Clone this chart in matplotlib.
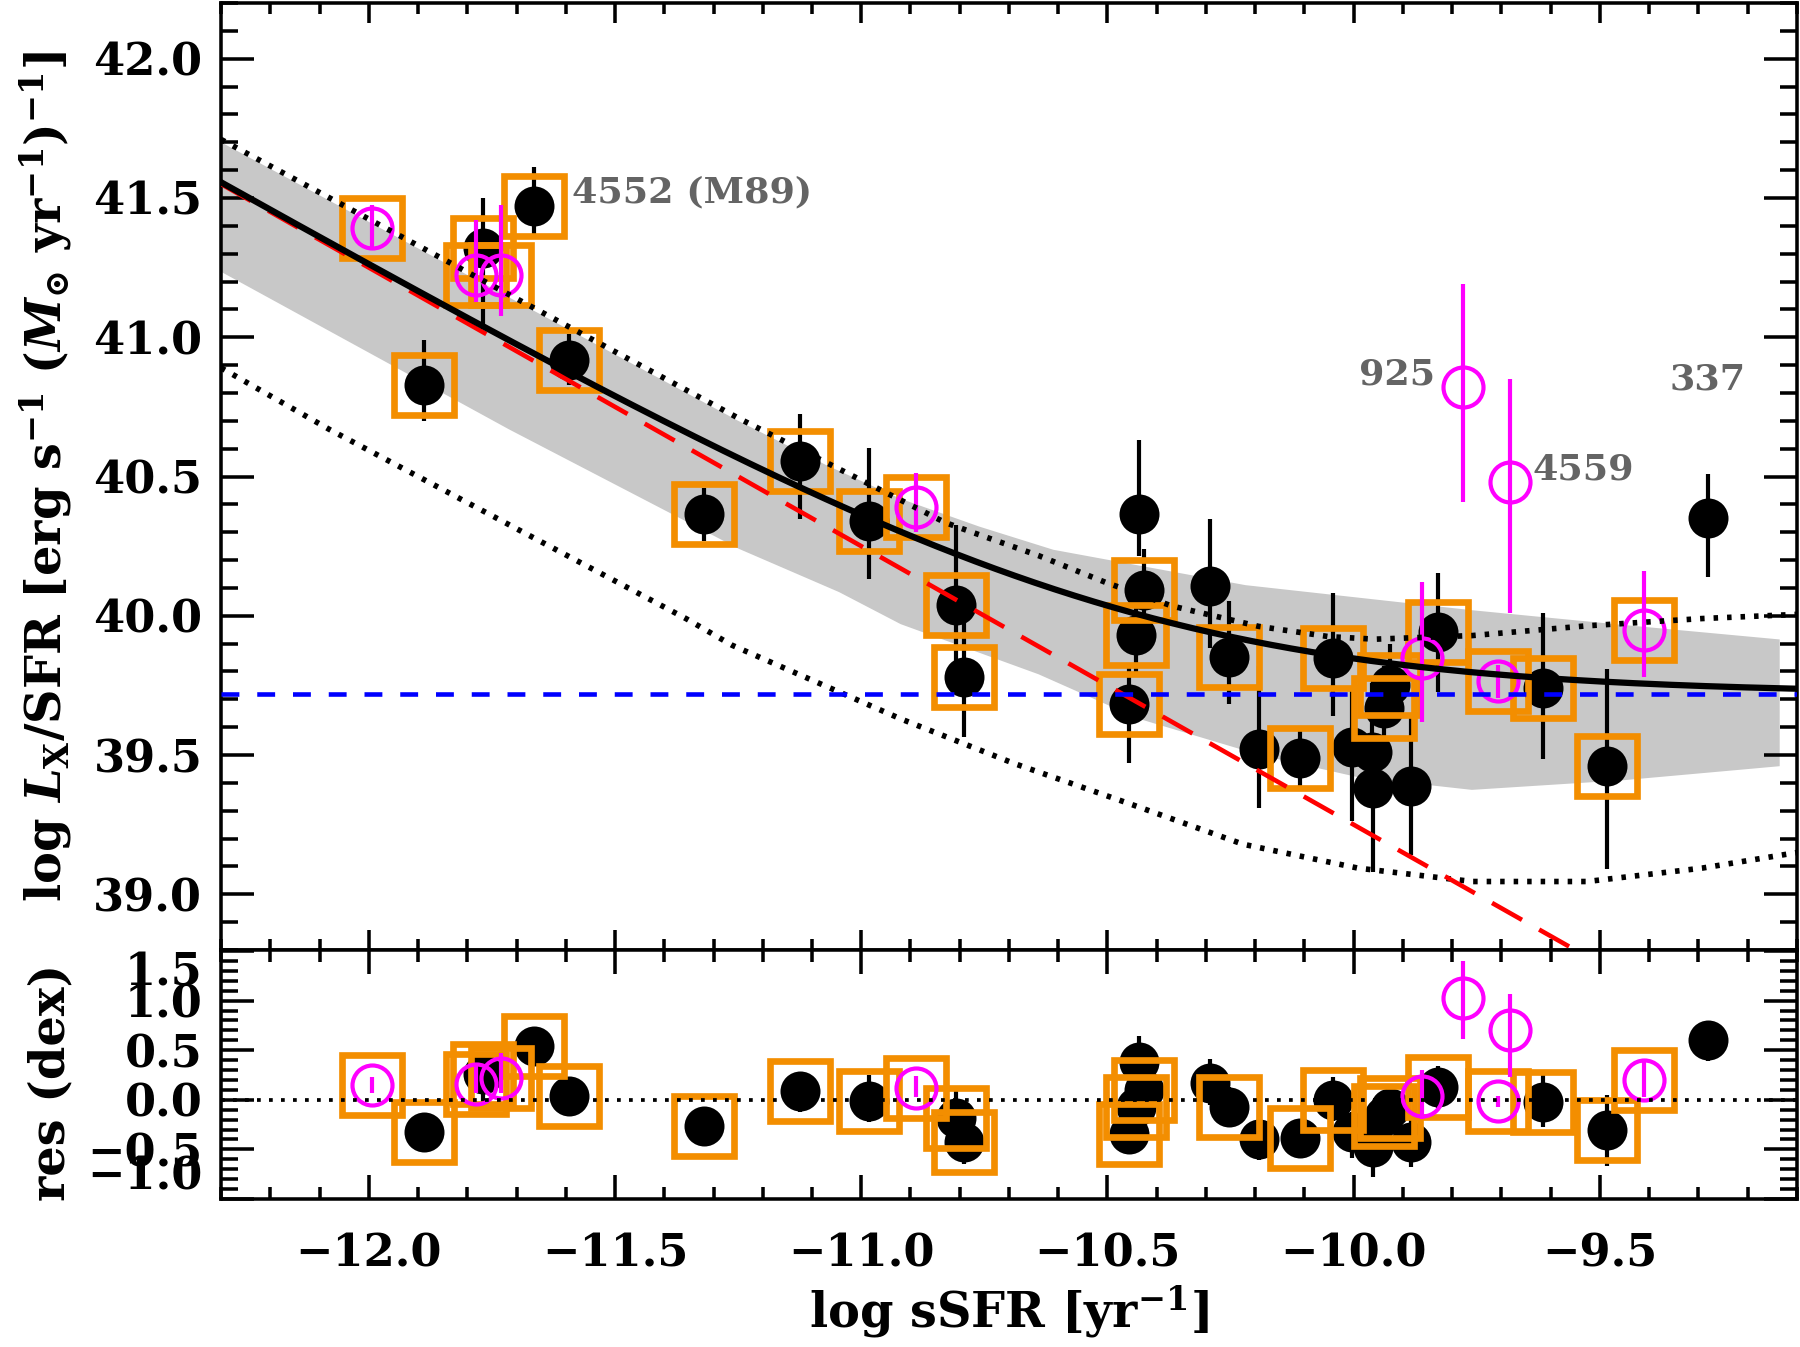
import numpy as np
import matplotlib
matplotlib.use("Agg")
import matplotlib.pyplot as plt
from matplotlib.ticker import MultipleLocator, FuncFormatter

plt.rcParams['font.family'] = ['DejaVu Serif']
plt.rcParams['font.weight'] = 'bold'
plt.rcParams['axes.labelweight'] = 'bold'
plt.rcParams['mathtext.fontset'] = 'custom'
plt.rcParams['mathtext.rm'] = 'DejaVu Serif:bold'
plt.rcParams['mathtext.it'] = 'DejaVu Serif:italic:bold'
plt.rcParams['mathtext.bf'] = 'DejaVu Serif:bold'

# galaxies shown as filled black circles
blk_x = [-11.887, -11.664, -11.769, -11.593, -11.319, -11.124, -10.984, -10.807,
         -10.792, -10.435, -10.426, -10.443, -10.457, -10.291, -10.254, -10.193,
         -10.110, -10.043, -10.003, -9.962, -9.961, -9.883, -9.927, -9.939,
         -9.828, -9.615, -9.485, -9.281]
blk_y = [40.83, 41.47, 41.32, 40.92, 40.365, 40.556, 40.341, 40.037,
         39.781, 40.365, 40.091, 39.93, 39.682, 40.106, 39.852, 39.52,
         39.49, 39.85, 39.53, 39.51, 39.38, 39.39, 39.75, 39.67,
         39.94, 39.74, 39.46, 40.35]
blk_elo = [0.13, 0.115, 0.29, 0.09, 0.095, 0.21, 0.21, 0.25,
           0.215, 0.15, 0.15, 0.15, 0.21, 0.22, 0.17, 0.21,
           0.10, 0.21, 0.265, 0.20, 0.30, 0.25, 0.15, 0.15,
           0.215, 0.255, 0.37, 0.21]
blk_ehi = [0.16, 0.14, 0.18, 0.09, 0.095, 0.167, 0.26, 0.29,
           0.22, 0.265, 0.15, 0.15, 0.15, 0.24, 0.20, 0.30,
           0.10, 0.23, 0.20, 0.25, 0.20, 0.25, 0.15, 0.15,
           0.215, 0.27, 0.35, 0.16]
blk_res = [-0.32, 0.54, 0.26, 0.04, -0.26, 0.09, -0.01, -0.18,
           -0.43, 0.38, 0.10, -0.07, -0.34, 0.17, -0.075, -0.40,
           -0.39, 0.0, -0.32, -0.33, -0.48, -0.43, -0.08, -0.16,
           0.13, -0.02, -0.30, 0.60]
blk_sq = [1, 1, 1, 1, 1, 1, 1, 1, 1, 0, 1, 1, 1, 0, 1, 0,
          1, 1, 0, 0, 0, 0, 1, 1, 1, 1, 1, 0]

# galaxies shown as open magenta circles
mag_x = [-11.994, -11.7825, -11.732, -10.888, -9.861, -9.779, -9.683, -9.708, -9.410]
mag_y = [41.393, 41.224, 41.224, 40.389, 39.85, 40.82, 40.48, 39.765, 39.95]
mag_elo = [0.074, 0.096, 0.147, 0.09, 0.23, 0.41, 0.47, 0.06, 0.17]
mag_ehi = [0.08, 0.196, 0.25, 0.123, 0.27, 0.37, 0.37, 0.06, 0.21]
mag_res = [0.145, 0.16, 0.22, 0.118, 0.034, 1.025, 0.70, -0.017, 0.196]
mag_sq = [1, 1, 1, 1, 0, 0, 0, 1, 1]

# model: L_X = alpha M* + beta SFR
log_alpha = 29.25
log_beta = 39.72

# grey band
band_up_x = [-12.3, -11.25, -11.07, -10.92, -10.76, -10.61, -10.22, -9.76, -9.47, -9.135]
band_up_y = [41.70, 40.70, 40.54, 40.42, 40.32, 40.237, 40.11, 40.02, 39.97, 39.915]
band_lo_x = [-12.3, -11.715, -11.248, -11.045, -10.92, -10.64, -10.436, -10.19,
             -9.99, -9.76, -9.45, -9.135]
band_lo_y = [41.235, 40.669, 40.24, 40.085, 39.97, 39.79, 39.63, 39.50,
             39.42, 39.375, 39.41, 39.46]

# dotted curves
dot_up_x = [-12.3, -11.25, -10.83, -10.775, -10.64, -10.504, -10.369, -10.193,
            -10.05, -9.957, -9.759, -9.526, -9.293, -9.1]
dot_up_y = [41.71, 40.71, 40.335, 40.30, 40.216, 40.12, 40.035, 39.962,
            39.925, 39.916, 39.929, 39.964, 39.99, 40.005]
dot_lo_x = [-12.3, -12.08, -11.356, -11.262, -10.92, -10.69, -10.458, -10.225,
            -9.991, -9.759, -9.526, -9.293, -9.1]
dot_lo_y = [40.89, 40.669, 39.99, 39.894, 39.63, 39.47, 39.327, 39.18,
            39.094, 39.046, 39.046, 39.094, 39.15]

labels = [('4552 (M89)', -11.588, 41.52, 'left'),
          ('925', -9.834, 40.865, 'right'),
          ('4559', -9.636, 40.525, 'left'),
          ('337', -9.359, 40.85, 'left')]

orange = '#F38E00'
magenta = '#FF00FF'
grey_txt = '#646464'

fig = plt.figure(figsize=(12, 8.98), dpi=150)
ax1 = fig.add_axes([0.1228, 0.2947, 0.8755, 0.7031])
ax2 = fig.add_axes([0.1228, 0.1099, 0.8755, 0.1848])

blk_x = np.array(blk_x)
mag_x = np.array(mag_x)
bsq = np.array(blk_sq, bool)
msq = np.array(mag_sq, bool)

minus_fmt = FuncFormatter(lambda v, p: f'{v:.1f}'.replace('-', '\u2212'))


def draw_points(ax, yb, ym):
    yb = np.array(yb)
    ym = np.array(ym)
    ax.errorbar(blk_x, yb, yerr=[blk_elo, blk_ehi], fmt='none', ecolor='black',
                elinewidth=2.0, capsize=0, zorder=3)
    ax.plot(blk_x, yb, 'o', color='black', ms=19.2, mew=0, zorder=3)
    ax.plot(np.concatenate([blk_x[bsq], mag_x[msq]]),
            np.concatenate([yb[bsq], ym[msq]]), 's', ms=28.8,
            mfc='none', mec=orange, mew=3.2, zorder=4)
    ax.errorbar(mag_x, ym, yerr=[mag_elo, mag_ehi], fmt='none', ecolor=magenta,
                elinewidth=2.0, capsize=0, zorder=5)
    ax.plot(mag_x, ym, 'o', ms=19.2, mfc='none', mec=magenta, mew=2.0, zorder=5)


# main panel
ax1.fill(np.concatenate([band_up_x, band_lo_x[::-1]]),
         np.concatenate([band_up_y, band_lo_y[::-1]]),
         color='#C8C8C8', lw=0, zorder=1)
draw_points(ax1, blk_y, mag_y)

xm = np.linspace(-12.3, -9.1, 400)
ax1.plot(dot_up_x, dot_up_y, color='black', lw=2.7, ls=(0, (0.8, 1.6)), zorder=6)
ax1.plot(dot_lo_x, dot_lo_y, color='black', lw=2.7, ls=(0, (0.8, 1.6)), zorder=6)
ax1.plot(xm, log_alpha - xm, color='red', lw=2.2, ls=(0, (7.5, 4.3)), zorder=6)
ax1.axhline(log_beta, color='blue', lw=2.2, ls=(0, (3.9, 3.9)), zorder=6)
ax1.plot(xm, np.log10(10 ** (log_alpha - xm) + 10 ** log_beta),
         color='black', lw=3.0, zorder=7)

for txt, tx, ty, ha in labels:
    ax1.text(tx, ty, txt, color=grey_txt, fontsize=17.5, ha=ha, va='center')

ax1.set_xlim(-12.3, -9.1)
ax1.set_ylim(38.8, 42.2)
ax1.xaxis.set_major_locator(MultipleLocator(0.5))
ax1.xaxis.set_minor_locator(MultipleLocator(0.1))
ax1.yaxis.set_major_locator(MultipleLocator(0.5))
ax1.yaxis.set_minor_locator(MultipleLocator(0.1))
ax1.yaxis.set_major_formatter(minus_fmt)
ax1.tick_params(axis='x', which='major', length=9.5, labelbottom=False)
ax1.tick_params(axis='x', which='minor', length=5.5)
ax1.tick_params(axis='y', which='major', length=16, labelsize=21.5, pad=9)
ax1.tick_params(axis='y', which='minor', length=8)
ax1.tick_params(which='both', direction='in', top=True, right=True, width=1.7)
ax1.set_ylabel(r'log $L_{\rm X}$/SFR [erg s$^{-1}$ ($M_{\odot}$ yr$^{-1}$)$^{-1}$]',
               fontsize=23)
ax1.yaxis.set_label_coords(-0.093, 0.5)

# residual panel
ax2.axhline(0.0, color='black', lw=1.8, ls=(0, (1.0, 2.2)), zorder=6)
draw_points(ax2, blk_res, mag_res)
ax2.set_xlim(-12.3, -9.1)
ax2.set_ylim(-1.0, 1.51)
ax2.xaxis.set_major_locator(MultipleLocator(0.5))
ax2.xaxis.set_minor_locator(MultipleLocator(0.1))
ax2.set_yticks([-1.0, -0.5, 0.0, 0.5, 1.0, 1.5])
ax2.set_yticklabels(['\u22121.0', '\u22120.5', '0.0', '0.5', '1.0', '1.5'])
ax2.yaxis.set_minor_locator(MultipleLocator(0.1))
ax2.xaxis.set_major_formatter(minus_fmt)
ax2.tick_params(axis='x', which='major', length=11.5, labelsize=21.5, pad=16)
ax2.tick_params(axis='x', which='minor', length=5.8)
ax2.tick_params(axis='y', which='major', length=16, labelsize=21.5, pad=9)
ax2.tick_params(axis='y', which='minor', length=8)
ax2.tick_params(which='both', direction='in', top=True, right=True, width=1.7)
ylbl = ax2.get_yticklabels()
ylbl[0].set_va('bottom')
ylbl[-1].set_va('top')
ax2.set_xlabel(r'log sSFR [yr$^{-1}$]', fontsize=23, labelpad=4)
ax2.set_ylabel('res (dex)', fontsize=23)
ax2.yaxis.set_label_coords(-0.093, 0.47)

for ax in (ax1, ax2):
    for sp in ax.spines.values():
        sp.set_linewidth(1.7)

fig.savefig('out.png', dpi=150)
